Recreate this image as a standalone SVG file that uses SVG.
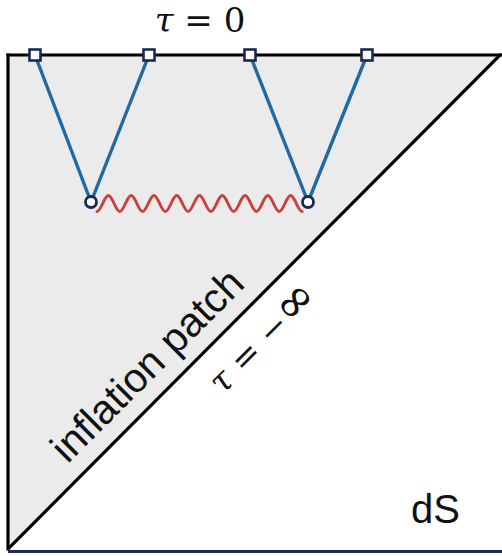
<svg xmlns="http://www.w3.org/2000/svg" width="502" height="556" viewBox="0 0 502 556">
<style>
.frame{stroke:#000;stroke-width:3.2;fill:none;stroke-linecap:square}
.prop{stroke:#1f6aa5;stroke-width:3.4;fill:none}
.wave{stroke:#c8413c;stroke-width:3;fill:none;stroke-linecap:round}
.sq{fill:#fff;stroke:#1b2a4e;stroke-width:2.6}
.vx{fill:#fff;stroke:#1b2a4e;stroke-width:2.8}
.math{font-family:"DejaVu Serif","Liberation Serif",serif;fill:#111}
.sans{font-family:"Liberation Sans",Arial,sans-serif;fill:#111}
</style>
<rect x="0" y="0" width="502" height="556" fill="#fff"/>
<g id="patch">
<polygon points="8,55 500,55 8,549" fill="#ebebeb"/>
<line class="frame" x1="8" y1="55" x2="501" y2="55"/>
<line class="frame" x1="8" y1="55" x2="8" y2="549"/>
<line class="frame" x1="500" y1="55" x2="9" y2="548"/>
<line x1="8" y1="551.5" x2="502" y2="551.5" stroke="#1b2a4e" stroke-width="3"/>
</g>
<g id="connectors">
<line class="prop" x1="35" y1="55" x2="91" y2="202"/>
<line class="prop" x1="149" y1="55" x2="91" y2="202"/>
<line class="prop" x1="250" y1="55" x2="308" y2="202"/>
<line class="prop" x1="367" y1="55" x2="308" y2="202"/>
<path class="wave" d="M97,211.5 c4.148,0 7.242,-16 11.39,-16 c4.148,0 7.242,16 11.39,16 c4.148,0 7.242,-16 11.39,-16 c4.148,0 7.242,16 11.39,16 c4.148,0 7.242,-16 11.39,-16 c4.148,0 7.242,16 11.39,16 c4.148,0 7.242,-16 11.39,-16 c4.148,0 7.242,16 11.39,16 c4.148,0 7.242,-16 11.39,-16 c4.148,0 7.242,16 11.39,16 c4.148,0 7.242,-16 11.39,-16 c4.148,0 7.242,16 11.39,16 c4.148,0 7.242,-16 11.39,-16 c4.148,0 7.242,16 11.39,16 c4.148,0 7.242,-16 11.39,-16 c4.148,0 7.242,16 11.39,16 c4.148,0 7.242,-16 11.39,-16 c4.148,0 7.242,16 11.39,16"/>
</g>
<g id="q1"><rect class="sq" x="29.5" y="49.5" width="11" height="11"/></g>
<g id="q2"><rect class="sq" x="143.5" y="49.5" width="11" height="11"/></g>
<g id="q3"><rect class="sq" x="244.5" y="49.5" width="11" height="11"/></g>
<g id="q4"><rect class="sq" x="361.5" y="49.5" width="11" height="11"/></g>
<g id="v1"><circle class="vx" cx="91" cy="202" r="5.5"/></g>
<g id="v2"><circle class="vx" cx="308" cy="202" r="5.5"/></g>
<g id="label-tau0"><text class="math" x="200" y="32" font-size="34" text-anchor="middle"><tspan font-style="italic">τ</tspan> = 0</text></g>
<g id="label-inflation"><text class="sans" x="0" y="0" font-size="41" text-anchor="middle" transform="translate(157,375) rotate(-45)">inflation patch</text></g>
<g id="label-tauinf"><text class="math" x="0" y="0" font-size="34" text-anchor="middle" transform="translate(271,347) rotate(-45)"><tspan font-style="italic">τ</tspan> = −<tspan font-size="48">∞</tspan></text></g>
<g id="label-dS"><text class="sans" x="411" y="523" font-size="40">dS</text></g>
</svg>
